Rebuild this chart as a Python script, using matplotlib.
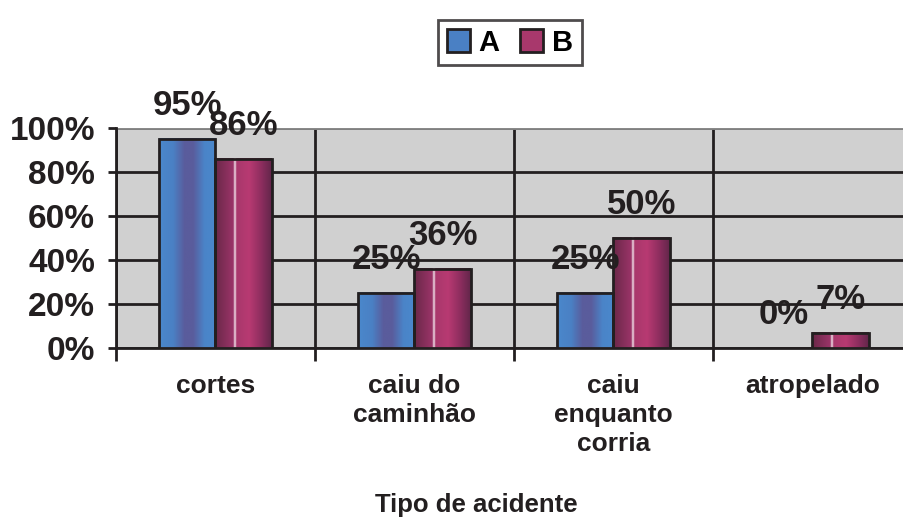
import matplotlib.pyplot as plt
import numpy as np
from matplotlib.colors import LinearSegmentedColormap
from matplotlib.patches import Patch

plt.rcParams["font.family"] = ["Liberation Sans", "DejaVu Sans"]
plt.rcParams["font.weight"] = "bold"

categories = ["cortes", "caiu do\ncaminhão", "caiu\nenquanto\ncorria", "atropelado"]
serie_a = [95, 25, 25, 0]
serie_b = [86, 36, 50, 7]
yticks = [0, 20, 40, 60, 80, 100]

# gradientes horizontais das barras (estilo "cilindro")
cmap_a = LinearSegmentedColormap.from_list(
    "grad_a",
    [(0.0, "#4a88cc"), (0.25, "#4a80c4"), (0.45, "#5a5c9c"), (0.6, "#5a5c9c"),
     (0.8, "#4a84c8"), (1.0, "#4a88cc")],
)
cmap_b = LinearSegmentedColormap.from_list(
    "grad_b",
    [(0.0, "#6a2848"), (0.32, "#9a3468"), (0.35, "#f4e8ee"), (0.38, "#a8386c"),
     (0.6, "#b83a72"), (0.8, "#902e60"), (1.0, "#62264a")],
)

fig = plt.figure(figsize=(9.04, 5.19), dpi=100)
ax = fig.add_axes([0.1283, 0.3295, 0.8805, 0.4239])
ax.set_facecolor("#d0d0d0")

x = np.arange(len(categories))
w = 0.286
bars_a = ax.bar(x - w / 2, serie_a, w, facecolor="none", edgecolor="#231f20",
                linewidth=2, zorder=4)
bars_b = ax.bar(x + w / 2, serie_b, w, facecolor="none", edgecolor="#231f20",
                linewidth=2, zorder=4)

grad = np.linspace(0, 1, 256).reshape(1, -1)
for bars, cmap in [(bars_a, cmap_a), (bars_b, cmap_b)]:
    for b in bars:
        if b.get_height() <= 0:
            continue
        ax.imshow(grad, cmap=cmap, aspect="auto", interpolation="bilinear",
                  extent=[b.get_x(), b.get_x() + b.get_width(), 0, b.get_height()],
                  zorder=3)

# rótulos de valor
for bars, vals in [(bars_a, serie_a), (bars_b, serie_b)]:
    for b, v in zip(bars, vals):
        ax.annotate(f"{v}%", (b.get_x() + b.get_width() / 2, v),
                    xytext=(0, 33), textcoords="offset pixels",
                    ha="center", va="center", fontsize=25, color="#231f20",
                    zorder=6, annotation_clip=False)

ax.set_xlim(-0.5, len(categories) - 0.5)
ax.set_ylim(0, 100)
ax.set_yticks(yticks)
ax.set_yticklabels([f"{t}%" for t in yticks], fontsize=24, color="#231f20")
ax.set_xticks(np.arange(len(categories) + 1) - 0.5)
ax.set_xticklabels([])
ax.tick_params(axis="x", length=9, width=2, color="#231f20")
ax.tick_params(axis="y", length=6, width=2, color="#231f20", pad=9)

ax.set_axisbelow(True)
ax.grid(True, color="#231f20", linewidth=2, zorder=1)
for s in ["top", "right"]:
    ax.spines[s].set_visible(False)
for s in ["left", "bottom"]:
    ax.spines[s].set_linewidth(2)
    ax.spines[s].set_color("#231f20")
ax.axhline(100, color="#8a8a8a", linewidth=2, zorder=1)

for xi, cat in zip(x, categories):
    ax.text(xi, -12, cat, ha="center", va="top", fontsize=19, color="#231f20",
            linespacing=1.25, transform=ax.transData)

fig.text(0.527, 0.027, "Tipo de acidente", ha="center", va="center",
         fontsize=18.5, color="#231f20")

handles = [Patch(facecolor="#4a80c4", edgecolor="#231f20", linewidth=2, label="A"),
           Patch(facecolor="#a8386c", edgecolor="#231f20", linewidth=2, label="B")]
leg = fig.legend(handles=handles, loc="center", bbox_to_anchor=(0.564, 0.918),
                 ncol=2, fontsize=21, frameon=True, fancybox=False,
                 handlelength=0.8, handleheight=0.8, handletextpad=0.3,
                 columnspacing=0.7, borderpad=0.3)
leg.get_frame().set_edgecolor("#231f20")
leg.get_frame().set_linewidth(2)

fig.savefig("out.png", dpi=100)
